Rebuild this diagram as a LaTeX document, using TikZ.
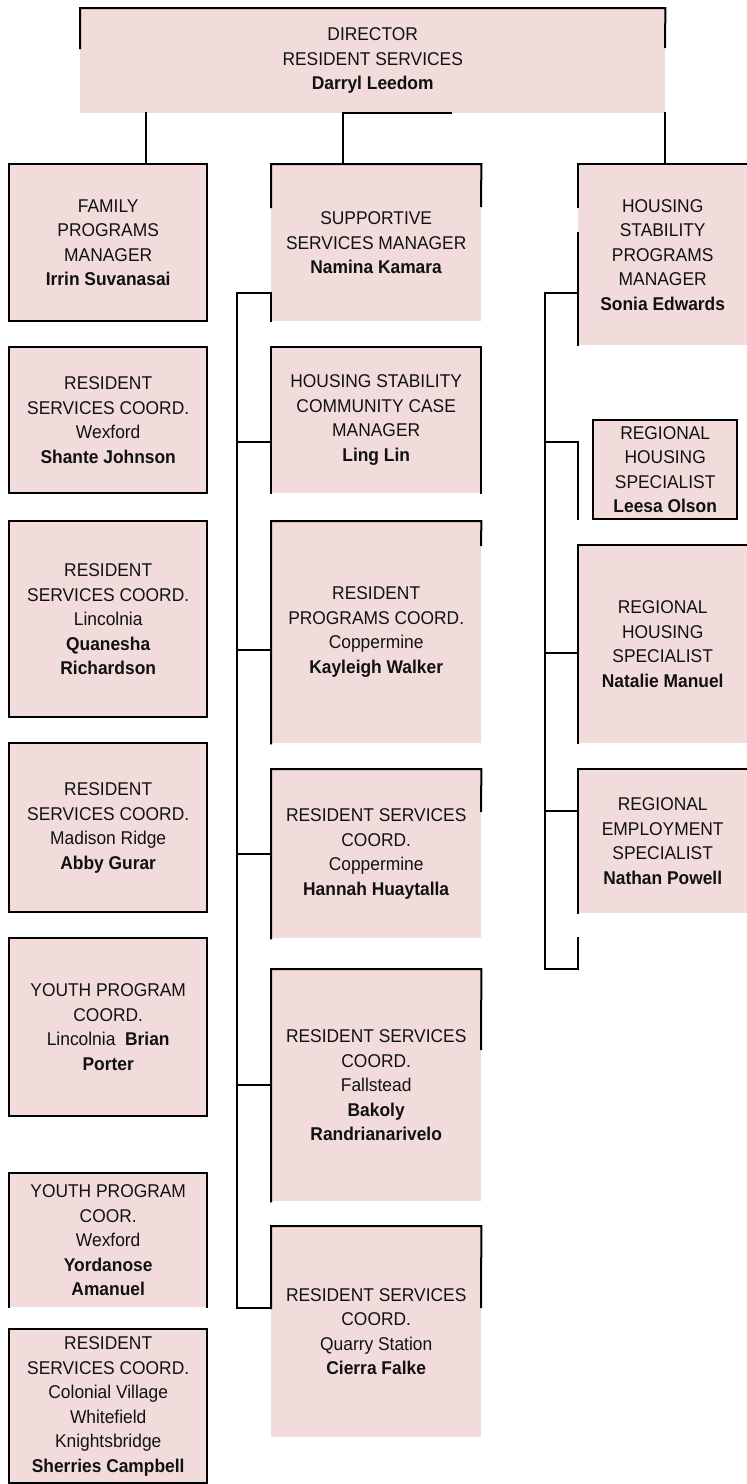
\documentclass[tikz,border=0pt]{standalone}
\usepackage{fontspec}
\setmainfont{Liberation Sans}[FakeStretch=0.94]
\definecolor{boxfill}{HTML}{F2DCDB}
\definecolor{txt}{HTML}{111111}
\tikzset{
  box/.style={fill=boxfill, inner sep=0pt, anchor=north west, align=center,
    text=txt, font=\fontsize{18.5}{24.5}\selectfont},
  bd/.style={line width=2pt, line cap=rect, line join=miter},
  conn/.style={line width=2pt, line cap=rect, line join=miter}
}
\newcommand\orgbox[6]{\node[box, minimum width=#4pt-#2pt, minimum height=#5pt-#3pt] (#1) at (#2,#3) {#6};}
\begin{document}
\begin{tikzpicture}[x=1pt,y=-1pt]
\useasboundingbox (0,0) rectangle (747,1484);
% boxes
\orgbox{dir}{80}{8}{665}{113}{DIRECTOR\\RESIDENT SERVICES\\\textbf{Darryl Leedom}}
\orgbox{fam}{9}{164}{207}{321}{FAMILY\\PROGRAMS\\MANAGER\\\textbf{Irrin Suvanasai}}
\orgbox{sup}{271}{164}{481}{321}{SUPPORTIVE\\SERVICES MANAGER\\\textbf{Namina Kamara}}
\orgbox{hs}{578}{164}{747}{345}{HOUSING\\STABILITY\\PROGRAMS\\MANAGER\\\textbf{Sonia Edwards}}
\orgbox{shante}{9}{347}{207}{493}{RESIDENT\\SERVICES COORD.\\Wexford\\\textbf{Shante Johnson}}
\orgbox{ling}{271}{347}{481}{493}{HOUSING STABILITY\\COMMUNITY CASE\\MANAGER\\\textbf{Ling Lin}}
\orgbox{leesa}{593}{420}{737}{519}{REGIONAL\\HOUSING\\SPECIALIST\\\textbf{Leesa Olson}}
\orgbox{quan}{9}{521}{207}{717}{RESIDENT\\SERVICES COORD.\\Lincolnia\\\textbf{Quanesha}\\\textbf{Richardson}}
\orgbox{kay}{271}{521}{481}{743}{RESIDENT\\PROGRAMS COORD.\\Coppermine\\\textbf{Kayleigh Walker}}
\orgbox{nat}{578}{545}{747}{743}{REGIONAL\\HOUSING\\SPECIALIST\\\textbf{Natalie Manuel}}
\orgbox{abby}{9}{743}{207}{912}{RESIDENT\\SERVICES COORD.\\Madison Ridge\\\textbf{Abby Gurar}}
\orgbox{hannah}{271}{769}{481}{938}{RESIDENT SERVICES\\COORD.\\Coppermine\\\textbf{Hannah Huaytalla}}
\orgbox{nathan}{578}{769}{747}{913}{REGIONAL\\EMPLOYMENT\\SPECIALIST\\\textbf{Nathan Powell}}
\orgbox{brian}{9}{938}{207}{1116}{YOUTH PROGRAM\\COORD.\\Lincolnia\ \ \textbf{Brian}\\\textbf{Porter}}
\orgbox{bakoly}{271}{969}{481}{1201}{RESIDENT SERVICES\\COORD.\\Fallstead\\\textbf{Bakoly}\\\textbf{Randrianarivelo}}
\orgbox{yord}{9}{1173}{207}{1307}{YOUTH PROGRAM\\COOR.\\Wexford\\\textbf{Yordanose}\\\textbf{Amanuel}}
\orgbox{cierra}{271}{1226}{481}{1437}{RESIDENT SERVICES\\COORD.\\Quarry Station\\\textbf{Cierra Falke}}
\orgbox{sher}{9}{1329}{207}{1483}{RESIDENT\\SERVICES COORD.\\Colonial Village\\Whitefield\\Knightsbridge\\\textbf{Sherries Campbell}}
% borders
\draw[bd] (80,48) -- (dir.north west) -- (dir.north east) -- (665,47);
\foreach \b in {fam,shante,quan,abby,brian,sher,leesa}
  \draw[bd] (\b.north west) rectangle (\b.south east);
\draw[bd] (yord.south west) -- (yord.north west) -- (yord.north east) -- (yord.south east);
\draw[bd] (271,207) -- (sup.north west) -- (sup.north east) -- (481,206);
\draw[bd] (ling.south west) -- (ling.north west) -- (ling.north east) -- (ling.south east);
\draw[bd] (kay.south west) -- (kay.north west) -- (kay.north east) -- (481,545);
\draw[bd] (hannah.south west) -- (hannah.north west) -- (hannah.north east) -- (481,811);
\draw[bd] (bakoly.south west) -- (bakoly.north west) -- (bakoly.north east) -- (481,1049);
\draw[bd] (271,1308) -- (cierra.north west) -- (cierra.north east) -- (481,1307);
\draw[bd] (578,207) -- (hs.north west) -- (hs.north east);
\draw[bd] (578,233) -- (hs.south west);
\draw[bd] (nat.south west) -- (nat.north west) -- (nat.north east);
\draw[bd] (nathan.south west) -- (nathan.north west) -- (nathan.north east);
% named points for connectors
\coordinate (fx) at (146,0);
\coordinate (sx) at (343,0);
\coordinate (sx2) at (451,0);
\coordinate (busA) at (237,0);
\coordinate (busB) at (545,0);
\coordinate (sb) at (271,293);
\coordinate (cb) at (271,1308);
\coordinate (hb) at (578,293);
\coordinate (hbe) at (545,969);
\coordinate (yl) at (0,442);
\coordinate (yk) at (0,650);
\coordinate (yn) at (0,653);
\coordinate (yt) at (0,811);
% connectors
\draw[conn] (dir.south -| fx) -- (fam.north -| fx);
\draw[conn] (dir.south -| sx2) -- (dir.south -| sx) -- (sup.north -| sx);
\draw[conn] (dir.south east) -- (hs.north -| dir.south east);
\draw[conn] (sup.south west) -- (sb) -- (sb -| busA) -- (cb -| busA) -- (cb);
\draw[conn] (yl -| busA) -- (yl -| ling.west);
\draw[conn] (yk -| busA) -- (yk -| kay.west);
\draw[conn] (hannah.west -| busA) -- (hannah.west);
\draw[conn] (bakoly.west -| busA) -- (bakoly.west);
\draw[conn] (hb) -- (hb -| busB) -- (hbe) -- (hbe -| nat.west) -- (nathan.south west |- 0,938);
\draw[conn] (yl -| busB) -- (yl -| nat.west) -- (nat.west |- leesa.south);
\draw[conn] (yn -| busB) -- (yn -| nat.west);
\draw[conn] (yt -| busB) -- (yt -| nathan.west);
\end{tikzpicture}
\end{document}
